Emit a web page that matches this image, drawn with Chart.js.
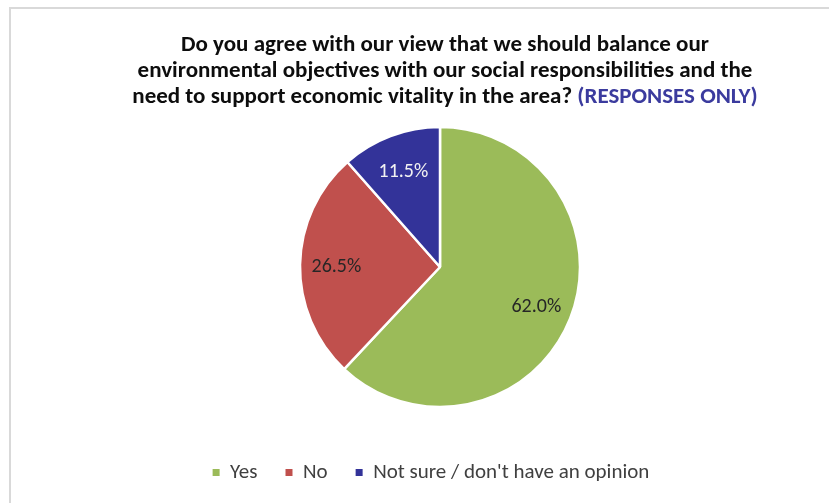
<!DOCTYPE html>
<html>
<head>
<meta charset="utf-8">
<script src="https://cdn.jsdelivr.net/npm/chart.js@4/dist/chart.umd.min.js"></script>
<style>
  html, body { margin: 0; padding: 0; background: #ffffff; }
  #wrap { position: relative; width: 829px; height: 503px; overflow: hidden; }
  #frame {
    position: absolute; left: 9px; top: 7px; width: 900px; height: 600px;
    border-top: 2px solid #d9d9d9; border-left: 2px solid #d9d9d9;
    box-sizing: border-box; pointer-events: none;
  }
  canvas { position: absolute; left: 0; top: 0; }
</style>
</head>
<body>
<div id="wrap">
  <div id="frame"></div>
  <canvas id="chart" width="829" height="503"></canvas>
</div>
<script>
// Survey answers (share of responses, %)
const categories = ['Yes', 'No', "Not sure / don't have an opinion"];
const shares = [62.0, 26.5, 11.5];
const sliceColors = ['#9bbb59', '#c0504d', '#333399'];
const labelColors = ['#262626', '#262626', '#f2f2f2'];

// Question text, split into the printed lines; the last line ends with a coloured note
const titleLines = [
  'Do you agree with our view that we should balance our',
  'environmental objectives with our social responsibilities and the',
  'need to support economic vitality in the area?'
];
const titleNote = '(RESPONSES ONLY)';

const FONT = 'Carlito, Calibri, Lato, "Liberation Sans", sans-serif';

// Draws the multi-line question above the pie, with the note in blue
const questionTitle = {
  id: 'questionTitle',
  afterDraw(chart) {
    const ctx = chart.ctx;
    ctx.save();
    ctx.font = 'bold 23px ' + FONT;
    ctx.textBaseline = 'middle';
    ctx.textAlign = 'left';
    const cx = 445;
    const ys = [45, 71, 97];
    titleLines.forEach((line, i) => {
      let text = line;
      let w = ctx.measureText(text).width;
      let noteW = 0;
      const last = i === titleLines.length - 1;
      if (last) {
        text = line + ' ';
        w = ctx.measureText(text).width;
        noteW = ctx.measureText(titleNote).width;
      }
      const x0 = cx - (w + noteW) / 2;
      ctx.fillStyle = '#0d0d0d';
      ctx.fillText(text, x0, ys[i]);
      if (last) {
        ctx.fillStyle = '#3b3b9e';
        ctx.fillText(titleNote, x0 + w, ys[i]);
      }
    });
    ctx.restore();
  }
};

// Writes each slice's percentage inside the slice
const sliceValues = {
  id: 'sliceValues',
  afterDatasetsDraw(chart) {
    const ctx = chart.ctx;
    const meta = chart.getDatasetMeta(0);
    const values = chart.data.datasets[0].data;
    ctx.save();
    ctx.font = '20px ' + FONT;
    ctx.textAlign = 'center';
    ctx.textBaseline = 'middle';
    meta.data.forEach((arc, i) => {
      const p = arc.getProps(['x', 'y', 'startAngle', 'endAngle', 'outerRadius'], true);
      const mid = (p.startAngle + p.endAngle) / 2;
      const r = p.outerRadius * 0.74;
      ctx.fillStyle = labelColors[i];
      ctx.fillText(values[i].toFixed(1) + '%', p.x + Math.cos(mid) * r, p.y + Math.sin(mid) * r + 2);
    });
    ctx.restore();
  }
};

// Nudges the legend row a little left of the pie's centre line
const legendShift = {
  id: 'legendShift',
  afterLayout(chart) {
    chart.legend.left -= 9;
    chart.legend.right -= 9;
  }
};

const defaultLabels = Chart.overrides.pie.plugins.legend.labels.generateLabels;

new Chart(document.getElementById('chart'), {
  type: 'pie',
  data: {
    labels: categories,
    datasets: [{
      data: shares,
      backgroundColor: sliceColors,
      borderColor: '#ffffff',
      borderWidth: 2.5,
      radius: 140,
      hoverOffset: 0
    }]
  },
  options: {
    responsive: false,
    animation: false,
    devicePixelRatio: 1,
    layout: { padding: { left: 51, right: 0, top: 100, bottom: 10 } },
    plugins: {
      title: { display: false },
      tooltip: { enabled: false },
      legend: {
        position: 'bottom',
        labels: {
          boxWidth: 7,
          boxHeight: 7,
          padding: 28,
          color: '#404040',
          font: { family: FONT, size: 21 },
          generateLabels(chart) {
            return defaultLabels(chart).map(item => Object.assign(item, { lineWidth: 0 }));
          }
        }
      }
    }
  },
  plugins: [questionTitle, sliceValues, legendShift]
});
</script>
</body>
</html>
